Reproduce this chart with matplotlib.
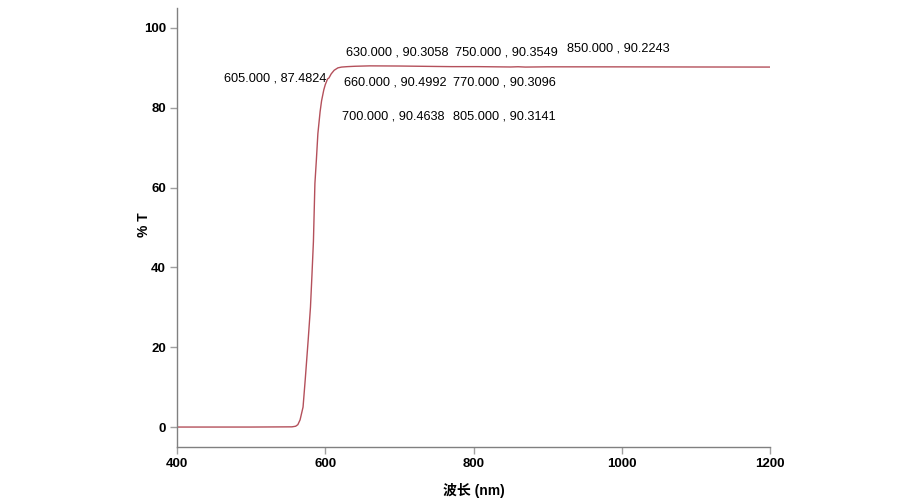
import matplotlib
matplotlib.use("Agg")
import matplotlib.pyplot as plt

# Data
wavelength = [400, 500, 555, 560, 563, 566, 570, 573, 577, 580, 582, 584, 586, 588,
              590, 593, 595, 598, 600, 603, 605, 608, 612, 617, 622, 630, 640, 660,
              700, 750, 770, 805, 850, 860, 870, 900, 1000, 1100, 1200]
transmittance = [0, 0, 0.05, 0.2, 0.6, 1.8, 5, 12, 22, 30, 38, 46.5, 61, 67,
                 73.5, 79, 81.75, 84.5, 85.8, 87.2, 87.48, 88.5, 89.4, 90.0, 90.2, 90.31, 90.4, 90.5,
                 90.46, 90.35, 90.31, 90.31, 90.22, 90.28, 90.2, 90.26, 90.25, 90.22, 90.2]

label_x = [605.0, 630.0, 660.0, 700.0, 750.0, 770.0, 805.0, 850.0]
label_y = [87.4824, 90.3058, 90.4992, 90.4638, 90.3549, 90.3096, 90.3141, 90.2243]
x_ticks = [400, 600, 800, 1000, 1200]
y_ticks = [0, 20, 40, 60, 80, 100]

# text anchor positions (layout)
text_pos = [(602, 87.25, 'right'), (628, 93.75, 'left'), (625, 86.25, 'left'),
            (622.5, 77.75, 'left'), (775, 93.75, 'left'), (772, 86.25, 'left'),
            (772, 77.75, 'left'), (926, 94.75, 'left')]

fam = ['Liberation Sans', 'Noto Sans CJK SC', 'DejaVu Sans']
plt.rcParams['font.family'] = fam

fig = plt.figure(figsize=(9, 5), dpi=100)
ax = fig.add_axes([0.1967, 0.106, 0.8556 - 0.1967, 0.984 - 0.106])
ax.plot(wavelength, transmittance, color='#b4505b', lw=1.0)

ax.set_xlim(400, 1200)
ax.set_ylim(-5, 105)
ax.set_xticks(x_ticks)
ax.set_yticks(y_ticks)
for s in ['top', 'right']:
    ax.spines[s].set_visible(False)
for s in ['left', 'bottom']:
    ax.spines[s].set_color('#808080')
    ax.spines[s].set_linewidth(1.0)
ax.tick_params(axis='both', direction='out', length=5, width=1, color='#a0a0a0',
               labelsize=9.5, pad=3)
for lab in ax.get_xticklabels() + ax.get_yticklabels():
    lab.set_fontweight('bold')

for (lx, ly), (px, py, ha) in zip(zip(label_x, label_y), text_pos):
    ax.text(px, py, f"{lx:.3f} , {ly:.4f}", ha=ha, va='center', fontsize=9.2,
            color='black')

ax.set_xlabel('波长 (nm)', fontsize=10, fontweight='bold', va='center')
ax.set_ylabel('% T', fontsize=10, fontweight='bold', va='center')
ax.xaxis.set_label_coords(0.5, -0.098)
ax.yaxis.set_label_coords(-0.056, 0.506)

fig.savefig('out.png', dpi=100)
